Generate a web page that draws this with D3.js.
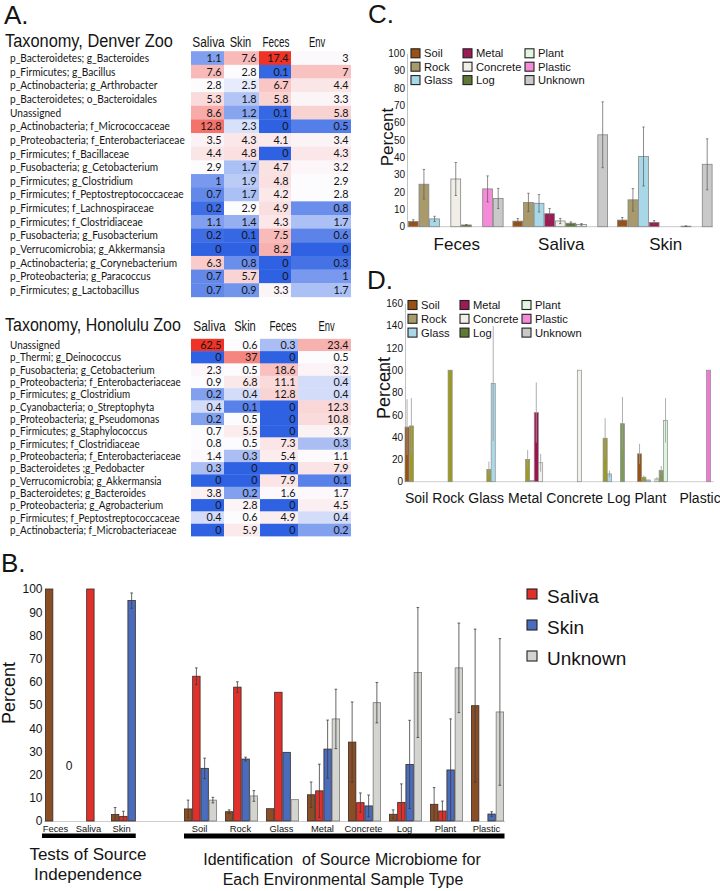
<!DOCTYPE html>
<html>
<head>
<meta charset="utf-8">
<script src="https://cdn.jsdelivr.net/npm/d3@7"></script>
<style>
  body { margin: 0; background: #fff; }
  svg { display: block; }
  text { fill: #141414; }
</style>
</head>
<body>
<svg id="fig" width="720" height="891"></svg>
<script>
// ---------- Panel A: taxonomy heatmaps ----------
const heatColumns = ["Saliva", "Skin", "Feces", "Env"];

const denverTaxa = [
  "p_Bacteroidetes; g_Bacteroides", "p_Firmicutes; g_Bacillus", "p_Actinobacteria; g_Arthrobacter",
  "p_Bacteroidetes; o_Bacteroidales", "Unassigned", "p_Actinobacteria; f_Micrococcaceae",
  "p_Proteobacteria; f_Enterobacteriaceae", "p_Firmicutes; f_Bacillaceae", "p_Fusobacteria; g_Cetobacterium",
  "p_Firmicutes; g_Clostridium", "p_Firmicutes; f_Peptostreptococcaceae", "p_Firmicutes; f_Lachnospiraceae",
  "p_Firmicutes; f_Clostridiaceae", "p_Fusobacteria; g_Fusobacterium", "p_Verrucomicrobia; g_Akkermansia",
  "p_Actinobacteria; g_Corynebacterium", "p_Proteobacteria; g_Paracoccus", "p_Firmicutes; g_Lactobacillus"
];
const denverSaliva = [1.1, 7.6, 2.8, 5.3, 8.6, 12.8, 3.5, 4.4, 2.9, 1, 0.7, 0.2, 1.1, 0.2, 0, 6.3, 0.7, 0.7];
const denverSkin   = [7.6, 2.8, 2.5, 1.8, 1.2, 2.3, 4.3, 4.8, 1.7, 1.9, 1.7, 2.9, 1.4, 0.1, 0, 0.8, 5.7, 0.9];
const denverFeces  = [17.4, 0.1, 6.7, 5.8, 0.1, 0, 4.1, 0, 4.7, 4.8, 4.2, 4.9, 4.3, 7.5, 8.2, 0, 0, 3.3];
const denverEnv    = [3, 7, 4.4, 3.3, 5.8, 0.5, 3.4, 4.3, 3.2, 2.9, 2.8, 0.8, 1.7, 0.6, 0, 0.3, 1, 1.7];

const honoluluTaxa = [
  "Unassigned", "p_Thermi; g_Deinococcus", "p_Fusobacteria; g_Cetobacterium",
  "p_Proteobacteria; f_Enterobacteriaceae", "p_Firmicutes; g_Clostridium", "p_Cyanobacteria; o_Streptophyta",
  "p_Proteobacteria; g_Pseudomonas", "p_Firmicutes; g_Staphylococcus", "p_Firmicutes; f_Clostridiaceae",
  "p_Proteobacteria; f_Enterobacteriaceae", "p_Bacteroidetes ;g_Pedobacter", "p_Verrucomicrobia; g_Akkermansia",
  "p_Bacteroidetes; g_Bacteroides", "p_Proteobacteria; g_Agrobacterium", "p_Firmicutes; f_Peptostreptococcaceae",
  "p_Actinobacteria; f_Microbacteriaceae"
];
const honoluluSaliva = [62.5, 0, 2.3, 0.9, 0.2, 0.4, 0.2, 0.7, 0.8, 1.4, 0.3, 0, 3.8, 0, 0.4, 0];
const honoluluSkin   = [0.6, 37, 0.5, 6.8, 0.4, 0.1, 0.5, 5.5, 0.5, 0.3, 0, 0, 0.2, 2.8, 0.6, 5.9];
const honoluluFeces  = [0.3, 0, 18.6, 11.1, 12.8, 0, 0, 0, 7.3, 5.4, 0, 7.9, 1.6, 0, 4.9, 0];
const honoluluEnv    = [23.4, 0.5, 3.2, 0.4, 0.4, 12.3, 10.8, 3.7, 0.3, 1.1, 7.9, 0.1, 1.7, 4.5, 0.4, 0.2];

// ---------- Panels C and D: environmental sources ----------
const sourceTypes = ["Soil", "Rock", "Glass", "Metal", "Concrete", "Log", "Plant", "Plastic", "Unknown"];
const animalSamples = ["Feces", "Saliva", "Skin"];

const cFecesMean  = [3, 24.5, 4.5, 0, 27.5, 1, 0, 21.8, 16.3];
const cFecesErr   = [1, 8.5, 1.5, 0, 9.5, 0.2, 0, 7.5, 5.8];
const cSalivaMean = [3.2, 14, 13.5, 7.5, 3.3, 2, 1.3, 0, 53];
const cSalivaErr  = [1.5, 5.3, 5, 3, 1.5, 0.8, 0.5, 0, 19];
const cSkinMean   = [3.8, 15.5, 40.5, 2.5, 0, 0, 0.3, 0, 36];
const cSkinErr    = [1.5, 6.5, 17, 1, 0, 0, 0.2, 0, 14.7];

const envTypes = ["Soil", "Rock", "Glass", "Metal", "Concrete", "Log", "Plant", "Plastic"];
// one row per environmental sample type, one column per source type
const dMean = [
  [49, 50, 0, 0, 0, 0, 0, 0, 0],
  [0, 100, 0, 0, 0, 0, 0, 0, 0],
  [0, 11, 88, 0, 0, 0, 0, 0, 0],
  [0, 20, 1, 62, 17, 0, 0, 0, 0],
  [0, 0, 0, 0, 100, 0, 0, 0, 0],
  [0, 39, 7, 0, 0, 52, 0, 0, 0],
  [25, 4, 1.5, 0, 2.5, 10, 55, 0, 0],
  [0, 0, 0, 0, 0, 0, 0, 100, 0]
];
const dErr = [
  [25, 25, 0, 0, 0, 0, 0, 0, 0],
  [0, 0, 0, 0, 0, 0, 0, 0, 0],
  [0, 7, 51.5, 0, 0, 0, 0, 0, 0],
  [0, 8.5, 0, 27, 8, 0, 0, 0, 0],
  [0, 0, 0, 0, 0, 0, 0, 0, 0],
  [0, 18, 3, 0, 0, 24, 0, 0, 0],
  [9, 1.5, 0.5, 0, 1.5, 4, 20, 0, 0],
  [0, 0, 0, 0, 0, 0, 0, 0, 0]
];

// ---------- Panel B: source tracking ----------
const bTestGroups = ["Feces", "Saliva", "Skin"];
const bEnvGroups = ["Soil", "Rock", "Glass", "Metal", "Concrete", "Log", "Plant", "Plastic"];
const bSeries = ["Feces", "Saliva", "Skin", "Unknown"];
const bLegend = ["Saliva", "Skin", "Unknown"];

const bFeces      = [100, 0, 2.8, 5.2, 4, 5.3, 11.3, 34, 2.9, 7.2, 49.7];
const bFecesErr   = [0, 0, 3, 3.8, 0.8, 0, 5.5, 17.3, 1.9, 7.2, 33];
const bSaliva     = [0, 100, 2, 62.4, 57.7, 55.5, 13, 7.9, 8, 4.3, 0];
const bSalivaErr  = [0, 0, 2.2, 3.6, 2.3, 0, 11.5, 4.2, 8, 4.3, 0];
const bSkin       = [0, 0, 95, 22.7, 26.7, 29.6, 31, 6.5, 24.4, 22, 3];
const bSkinErr    = [0, 0, 3.3, 4.4, 0.8, 0, 12.5, 4.7, 19, 22, 1];
const bUnknown    = [0, 0, 0, 9, 10.8, 9.2, 44, 51, 64, 66, 47];
const bUnknownErr = [0, 0, 0, 1.2, 2.3, 0, 12.8, 8.7, 28, 19.3, 31.6];

// Colours
const heatBlue = "#2f62e3", heatMid = "#fcfcff", heatRed = "#ef3326";
const sourceColor = d3.scaleOrdinal().domain(sourceTypes)
  .range(["#9a5212", "#a89a6a", "#a8d8e7", "#9c1a55", "#f0eee7", "#5f7a36", "#e2f5e0", "#f58ad8", "#c9c9c9"]);
const dBarColor = d3.scaleOrdinal().domain(sourceTypes)
  .range(["#9a5212", "#9c9a22", "#a9d9ea", "#9b1450", "#f3f1eb", "#7f9a56", "#dcf5dc", "#f07ad0", "#cccccc"]);
const bColor = d3.scaleOrdinal().domain(bSeries).range(["#8a4e26", "#e0302c", "#4a6cbd", "#d3d3cf"]);

const SANS = "'Liberation Sans', Arial, Helvetica, sans-serif";

const svg = d3.select("#fig");

// place a text at (x, y) and squeeze it sideways if it runs wider than maxW
function squeezeText(sel, x, y, maxW) {
  sel.attr("transform", `translate(${x},${y})`);
  const w = sel.node().getComputedTextLength();
  if (w > maxW) sel.attr("transform", `translate(${x},${y}) scale(${(maxW / w).toFixed(4)},1)`);
  return sel;
}

function panelLetter(label, x, y) {
  svg.append("text").attr("x", x).attr("y", y)
    .style("font-family", SANS).style("font-size", "26px").text(label);
}

// ================= Panel A =================
function drawHeatmap(cfg) {
  const g = svg.append("g");
  const cols = cfg.cols;
  const all = cols.flat();
  const color = d3.scaleLinear()
    .domain([d3.min(all), d3.median(all), d3.max(all)])
    .range([heatBlue, heatMid, heatRed])
    .interpolate(d3.interpolateRgb);

  const n = cfg.taxa.length;
  const y = d3.scaleBand().domain(d3.range(n)).range([cfg.top, cfg.top + cfg.rowH * n]);
  const edges = cfg.edges;

  // title + column headers
  g.append("text")
    .style("font-family", SANS).style("font-size", "19px")
    .text(cfg.title)
    .call(squeezeText, 5, cfg.titleY, cfg.titleW);
  heatColumns.forEach((c, i) => {
    g.append("text")
      .attr("text-anchor", "middle")
      .style("font-family", SANS).style("font-size", "15px")
      .text(c)
      .call(squeezeText, (edges[i] + edges[i + 1]) / 2 + cfg.hdrShift[i], cfg.titleY, c.length * 5.4);
  });

  // row labels: full-height glyphs, squeezed sideways so the longest spans the measured width
  const lg = g.append("g");
  const labels = lg.selectAll(".tax").data(cfg.taxa).join("text")
    .attr("x", 0)
    .attr("y", (d, i) => y(i) + y.bandwidth() / 2)
    .attr("dy", "0.36em")
    .style("font-family", "Lato, sans-serif").style("font-size", "11px")
    .text(d => d);
  const widest = d3.max(labels.nodes(), nd => nd.getComputedTextLength());
  lg.attr("transform", `translate(10,0) scale(${(cfg.labelW / widest).toFixed(4)},1)`);

  // cells
  cols.forEach((vals, ci) => {
    const cg = g.append("g");
    cg.selectAll("rect").data(vals).join("rect")
      .attr("x", edges[ci])
      .attr("y", (d, i) => y(i))
      .attr("width", edges[ci + 1] - edges[ci])
      .attr("height", y.bandwidth() + 0.3)
      .attr("fill", d => color(d));
    cg.selectAll("text").data(vals).join("text")
      .attr("x", edges[ci + 1] - 2.5)
      .attr("y", (d, i) => y(i) + y.bandwidth() / 2)
      .attr("dy", "0.36em")
      .attr("text-anchor", "end")
      .style("font-family", "Lato, sans-serif").style("font-size", "10.8px")
      .text(d => d);
  });
}

panelLetter("A.", 4, 24);
drawHeatmap({
  title: "Taxonomy, Denver Zoo", titleY: 47, titleW: 168,
  taxa: denverTaxa, cols: [denverSaliva, denverSkin, denverFeces, denverEnv],
  top: 51.2, rowH: 13.65, edges: [191, 224, 259, 291, 351], labelW: 175,
  hdrShift: [1, -1, 1, -4]
});
drawHeatmap({
  title: "Taxonomy, Honolulu Zoo", titleY: 331, titleW: 176,
  taxa: honoluluTaxa, cols: [honoluluSaliva, honoluluSkin, honoluluFeces, honoluluEnv],
  top: 338.8, rowH: 12.33, edges: [191, 224, 260, 298, 351], labelW: 171,
  hdrShift: [2, 3, 4, 2]
});

// ---------- shared bar helpers ----------
function errorBars(g, data, xFn, yScale, stroke, cap, width) {
  const rows = data.filter(d => d.v > 0 && d.e > 0);
  const eg = g.append("g").attr("stroke", stroke).attr("stroke-width", width);
  eg.selectAll(".stem").data(rows).join("line")
    .attr("x1", xFn).attr("x2", xFn)
    .attr("y1", d => yScale(d.v + d.e))
    .attr("y2", d => yScale(Math.max(0, d.v - d.e)));
  if (cap > 0) {
    eg.selectAll(".capTop").data(rows).join("line")
      .attr("x1", d => xFn(d) - cap).attr("x2", d => xFn(d) + cap)
      .attr("y1", d => yScale(d.v + d.e)).attr("y2", d => yScale(d.v + d.e));
    eg.selectAll(".capBot").data(rows.filter(d => d.v - d.e > 0)).join("line")
      .attr("x1", d => xFn(d) - cap).attr("x2", d => xFn(d) + cap)
      .attr("y1", d => yScale(d.v - d.e)).attr("y2", d => yScale(d.v - d.e));
  }
}

function sourceLegend(g, x0s, baseline0, step, fontSize) {
  sourceTypes.forEach((t, i) => {
    const col = Math.floor(i / 3), row = i % 3;
    const by = baseline0 + row * step;
    g.append("rect")
      .attr("x", x0s[col]).attr("y", by - 8.5).attr("width", 9).attr("height", 9)
      .attr("fill", sourceColor(t)).attr("stroke", "#222").attr("stroke-width", 1.1);
    g.append("text").attr("x", x0s[col] + 13).attr("y", by)
      .style("font-family", SANS).style("font-size", fontSize + "px").text(t);
  });
}

function styleAxis(a, fontSize) {
  a.select(".domain").attr("stroke", "#c2c2c2");
  a.selectAll("text").style("font-family", SANS).style("font-size", fontSize + "px").attr("fill", "#222");
}

// ================= Panel C =================
panelLetter("C.", 368, 23);
{
  const g = svg.append("g");
  const cMeans = [cFecesMean, cSalivaMean, cSkinMean];
  const cErrs = [cFecesErr, cSalivaErr, cSkinErr];
  const y = d3.scaleLinear().domain([0, 100]).range([226.7, 53.3]);
  const x0 = d3.scaleBand().domain(animalSamples).range([408, 712.5]).paddingInner(0.086);
  const x1 = d3.scaleBand().domain(sourceTypes).range([0, x0.bandwidth()]);

  g.append("g").attr("transform", "translate(407,0)")
    .call(d3.axisLeft(y).tickValues(d3.range(0, 101, 10)).tickSize(0).tickSizeOuter(0).tickPadding(2))
    .call(a => styleAxis(a, 10));
  g.append("line").attr("x1", 407).attr("x2", 713).attr("y1", y(0)).attr("y2", y(0)).attr("stroke", "#c8c8c8");

  const rows = animalSamples.flatMap((s, si) => sourceTypes.map((t, ti) => ({ s, t, v: cMeans[si][ti], e: cErrs[si][ti] })));
  g.selectAll(".bar").data(rows.filter(d => d.v > 0)).join("rect")
    .attr("x", d => x0(d.s) + x1(d.t) + 0.4)
    .attr("y", d => y(d.v))
    .attr("width", x1.bandwidth() - 0.8)
    .attr("height", d => y(0) - y(d.v))
    .attr("fill", d => sourceColor(d.t)).attr("stroke", "#858585").attr("stroke-width", 0.8);
  errorBars(g, rows, d => x0(d.s) + x1(d.t) + x1.bandwidth() / 2, y, "#5a5a5a", 1.2, 0.7);

  g.selectAll(".grp").data(animalSamples).join("text")
    .attr("x", d => x0(d) + x0.bandwidth() / 2 + 1).attr("y", 250)
    .attr("text-anchor", "middle")
    .style("font-family", SANS).style("font-size", "17px").text(d => d);
  g.append("text").attr("transform", "translate(393,137) rotate(-90)")
    .attr("text-anchor", "middle")
    .style("font-family", SANS).style("font-size", "17px").text("Percent");
  sourceLegend(g, [411, 463, 525], 57.3, 13.4, 11.2);
}

// ================= Panel D =================
panelLetter("D.", 367, 289);
{
  const g = svg.append("g");
  const y = d3.scaleLinear().domain([0, 160]).range([481.7, 303.3]);
  const x0 = d3.scaleBand().domain(envTypes).range([405, 715]);
  const x1 = d3.scaleBand().domain(sourceTypes).range([0, x0.bandwidth()]).paddingInner(0.05);

  g.append("g").attr("transform", "translate(405,0)")
    .call(d3.axisLeft(y).tickValues(d3.range(0, 161, 20)).tickSize(0).tickSizeOuter(0).tickPadding(2))
    .call(a => styleAxis(a, 10));
  g.append("line").attr("x1", 405).attr("x2", 714).attr("y1", y(0)).attr("y2", y(0)).attr("stroke", "#cfcfcf");

  const rows = envTypes.flatMap((s, si) => sourceTypes.map((t, ti) => ({ s, t, v: dMean[si][ti], e: dErr[si][ti] })));
  g.selectAll(".bar").data(rows.filter(d => d.v > 0)).join("rect")
    .attr("x", d => x0(d.s) + x1(d.t))
    .attr("y", d => y(d.v))
    .attr("width", x1.bandwidth())
    .attr("height", d => y(0) - y(d.v))
    .attr("fill", d => dBarColor(d.t)).attr("stroke", "#8e8e8e").attr("stroke-width", 0.7);
  errorBars(g, rows, d => x0(d.s) + x1(d.t) + x1.bandwidth() / 2, y, "#9a9a9a", 0, 0.8);

  // category names run as one line under the axis
  let cursor = 405;
  envTypes.forEach((t, i) => {
    const el = g.append("text").attr("x", cursor).attr("y", 503)
      .style("font-family", SANS).style("font-size", "14px").text(t);
    cursor += el.node().getComputedTextLength() + (i === envTypes.length - 2 ? 13 : 4);
  });
  g.append("text").attr("transform", "translate(390,388) rotate(-90)")
    .attr("text-anchor", "middle")
    .style("font-family", SANS).style("font-size", "18px").text("Percent");
  sourceLegend(g, [408, 460, 522], 309, 13.8, 11.2);
}

// ================= Panel B =================
panelLetter("B.", 1, 572);
{
  const g = svg.append("g");
  const bGroups = bTestGroups.concat(bEnvGroups);
  const bMeans = [bFeces, bSaliva, bSkin, bUnknown];
  const bErrs = [bFecesErr, bSalivaErr, bSkinErr, bUnknownErr];
  const y = d3.scaleLinear().domain([0, 100]).range([821, 589]);
  const xTest = d3.scaleBand().domain(bTestGroups).range([45, 144]);
  const xEnv = d3.scaleBand().domain(bEnvGroups).range([184, 504]).paddingInner(8 / 41).paddingOuter(0);
  const x1 = d3.scaleBand().domain(bSeries).range([0, xTest.bandwidth()]);
  const groupX = i => (i < bTestGroups.length ? xTest(bGroups[i]) : xEnv(bGroups[i]));

  g.append("g").attr("transform", "translate(44,0)")
    .call(d3.axisLeft(y).tickValues(d3.range(0, 101, 10)).tickSize(0).tickSizeOuter(0).tickPadding(1.5))
    .call(a => { styleAxis(a, 12); a.select(".domain").remove(); });
  g.append("line").attr("x1", 44).attr("x2", 505).attr("y1", y(0) + 0.5).attr("y2", y(0) + 0.5).attr("stroke", "#cdcdcd");

  const rows = bGroups.flatMap((grp, gi) => bSeries.map((s, si) => ({ gi, s, v: bMeans[si][gi], e: bErrs[si][gi] })));
  g.selectAll(".bar").data(rows.filter(d => d.v > 0)).join("rect")
    .attr("x", d => groupX(d.gi) + x1(d.s) + 0.4)
    .attr("y", d => y(d.v))
    .attr("width", x1.bandwidth() - 0.8)
    .attr("height", d => y(0) - y(d.v))
    .attr("fill", d => bColor(d.s))
    .attr("stroke", d => (d.s === "Unknown" ? "#7a7a7a" : "#3a2a22")).attr("stroke-width", 0.8);
  errorBars(g, rows, d => groupX(d.gi) + x1(d.s) + x1.bandwidth() / 2, y, "#3c3c3c", 1.3, 0.8);

  // sample labels and underline bars
  g.selectAll(".xl").data(bGroups).join("text")
    .attr("x", (d, i) => groupX(i) + xTest.bandwidth() / 2 + (i < bTestGroups.length ? -6 : -1))
    .attr("y", 832)
    .attr("text-anchor", "middle")
    .style("font-family", SANS).style("font-size", "9.4px").text(d => d);
  g.append("rect").attr("x", 42).attr("y", 833.5).attr("width", groupX(2) + x1("Unknown") - 42).attr("height", 4.5).attr("fill", "#000");
  g.append("rect").attr("x", 184).attr("y", 833.5).attr("width", 504.5 - 184).attr("height", 5).attr("fill", "#000");

  g.append("text").attr("x", 69).attr("y", 770).attr("text-anchor", "middle")
    .style("font-family", SANS).style("font-size", "12px").text("0");

  g.append("text").attr("transform", "translate(15,693) rotate(-90)")
    .attr("text-anchor", "middle")
    .style("font-family", SANS).style("font-size", "18px").text("Percent");

  const foot = [
    { x: 88, y: 860, t: "Tests of Source", s: 17 },
    { x: 88, y: 880, t: "Independence", s: 17 },
    { x: 342, y: 865, t: "Identification  of Source Microbiome for", s: 16 },
    { x: 343, y: 885, t: "Each Environmental Sample Type", s: 16 }
  ];
  g.selectAll(".foot").data(foot).join("text")
    .attr("x", d => d.x).attr("y", d => d.y).attr("text-anchor", "middle")
    .attr("xml:space", "preserve")
    .style("font-family", SANS).style("font-size", d => d.s + "px").text(d => d.t);

  const lg = g.append("g");
  bLegend.forEach((s, i) => {
    const by = [603, 634, 665][i];
    lg.append("rect").attr("x", 527).attr("y", by - 14).attr("width", 10).attr("height", 10)
      .attr("fill", bColor(s)).attr("stroke", "#222").attr("stroke-width", 1.1);
    lg.append("text").attr("x", 547).attr("y", by)
      .style("font-family", SANS).style("font-size", "19px").text(s);
  });
}
</script>
</body>
</html>
